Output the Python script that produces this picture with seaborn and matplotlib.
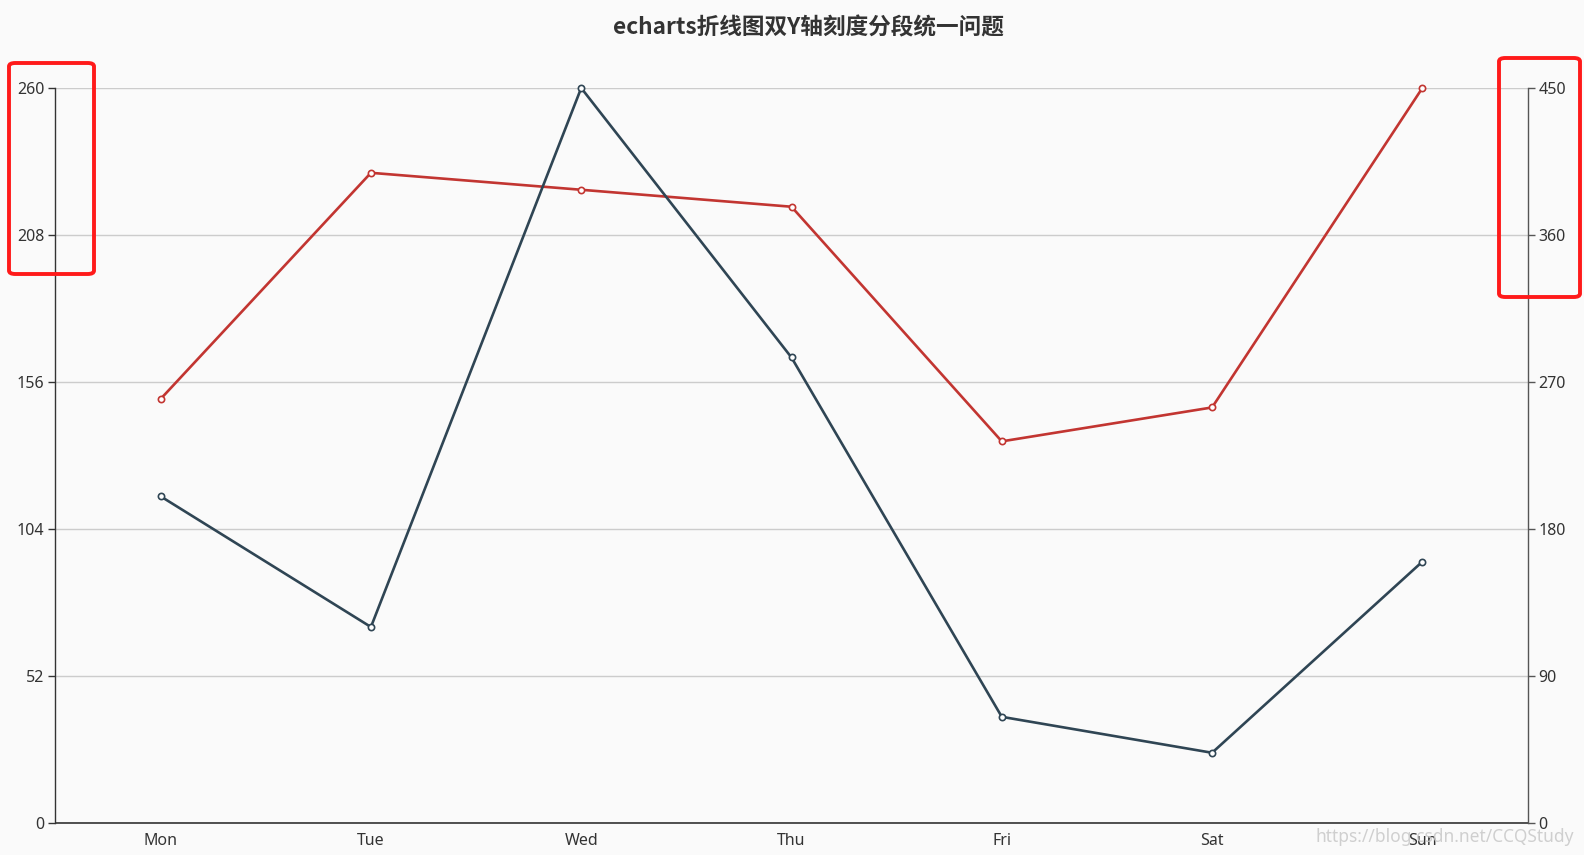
import numpy as np
import pandas as pd
import seaborn as sns
import matplotlib.pyplot as plt
from matplotlib.patches import FancyBboxPatch

# data
days = ['Mon', 'Tue', 'Wed', 'Thu', 'Fri', 'Sat', 'Sun']
left_series = [150, 230, 224, 218, 135, 147, 260]
right_series = [200, 120, 450, 285, 65, 43, 160]
left_ticks = [0, 52, 104, 156, 208, 260]
right_ticks = [0, 90, 180, 270, 360, 450]
title = 'echarts折线图双Y轴刻度分段统一问题'
watermark = 'https://blog.csdn.net/CCQStudy'

RED = '#c23531'
DARK = '#2f4554'
BG = '#fafafa'
W, H = 1584, 855

sns.set_style('white')
plt.rcParams['font.family'] = ['Noto Sans', 'Noto Sans CJK SC', 'DejaVu Sans']

fig = plt.figure(figsize=(W / 100, H / 100), dpi=100, facecolor=BG)
ax = fig.add_axes([55.5 / W, 32 / H, (1527.5 - 55.5) / W, (823 - 88) / H])
ax.set_facecolor(BG)
ax2 = ax.twinx()

df = pd.DataFrame({'day': days, 'left': left_series, 'right': right_series})

line_kw = dict(linewidth=1.9, marker='o', markersize=4.5, markerfacecolor='white',
               markeredgewidth=1.2, zorder=3, clip_on=False)
sns.lineplot(data=df, x='day', y='left', ax=ax, color=RED, markeredgecolor=RED, **line_kw)
sns.lineplot(data=df, x='day', y='right', ax=ax2, color=DARK, markeredgecolor=DARK, **line_kw)

ax.set_xlim(-0.5, len(days) - 0.5)
ax.set_ylim(left_ticks[0], left_ticks[-1])
ax2.set_ylim(right_ticks[0], right_ticks[-1])
ax.set_yticks(left_ticks)
ax2.set_yticks(right_ticks)
ax.set_xlabel('')
ax.set_ylabel('')
ax2.set_ylabel('')

# category labels centred, tick marks on the boundaries
ax.set_xticks(range(len(days)))
ax.set_xticklabels(days)
ax.set_xticks(np.arange(-0.5, len(days), 1.0), minor=True)
ax.tick_params(axis='x', which='major', length=0, pad=7, labelsize=11.5, labelcolor='#333333')
ax.tick_params(axis='x', which='minor', length=5, width=1, color='#333333', direction='out')
ax.tick_params(axis='y', length=5, width=1, color='#333333', direction='out', pad=3,
               labelsize=11.5, labelcolor='#333333')
ax2.tick_params(axis='y', length=5, width=1, color='#555555', direction='out', pad=3,
                labelsize=11.5, labelcolor='#333333')

ax.grid(axis='y', color='#cccccc', linewidth=1)
ax.set_axisbelow(True)
for s in ['top', 'right']:
    ax.spines[s].set_visible(False)
for s in ['top', 'left', 'bottom']:
    ax2.spines[s].set_visible(False)
ax.spines['left'].set_color('#333333')
ax.spines['bottom'].set_color('#333333')
ax.spines['left'].set_linewidth(1)
ax.spines['bottom'].set_linewidth(1.2)
ax2.spines['right'].set_color('#555555')
ax2.spines['right'].set_linewidth(1)

fig.text(808 / W, 1 - 28 / H, title, ha='center', va='center',
         fontsize=16.3, fontweight='bold', color='#333333',
         family=['Noto Sans CJK SC', 'DejaVu Sans'])

# red highlight boxes
def add_box(x0, y0, x1, y1):
    box = FancyBboxPatch((x0 / W, 1 - y1 / H), (x1 - x0) / W, (y1 - y0) / H,
                         boxstyle='round,pad=0,rounding_size=0.004',
                         transform=fig.transFigure, fill=False,
                         edgecolor='#ff1a1a', linewidth=2.8, zorder=10)
    fig.add_artist(box)

add_box(9, 63, 94, 274)
add_box(1499, 58, 1580, 297)

fig.text(1574 / W, 1 - 837 / H, watermark, ha='right', va='center',
         fontsize=12.5, color='#c8c8c8', alpha=0.85)

fig.savefig('out.png', dpi=100, facecolor=BG)
